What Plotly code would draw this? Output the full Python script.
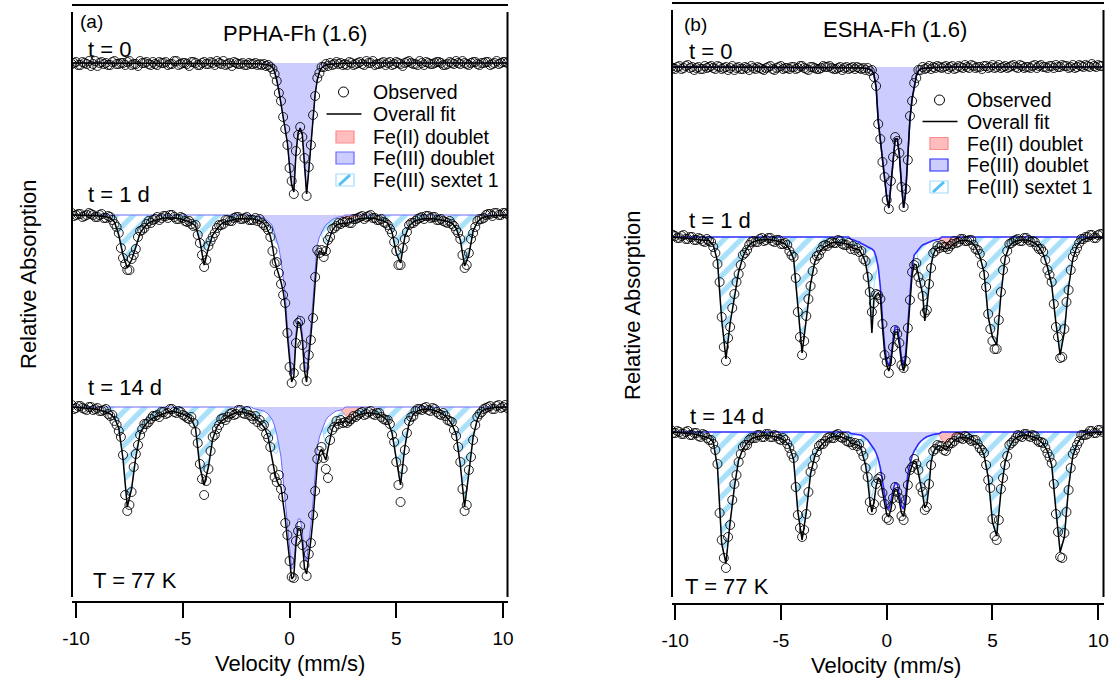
import plotly.graph_objects as go

W, H = 1114, 679
FONT = "Liberation Sans, Arial, sans-serif"

# velocity channels (mm/s): 0.2 steps in the wings, 0.1 steps across the centre
V_LEFT = [-10.2, -10.0, -9.8, -9.6, -9.4, -9.2, -9.0, -8.8, -8.6, -8.4, -8.2, -8.0, -7.8, -7.6, -7.4, -7.2,
          -7.0, -6.8, -6.6, -6.4, -6.2, -6.0, -5.8, -5.6, -5.4, -5.2, -5.0, -4.8, -4.6, -4.4, -4.2, -4.0,
          -3.8, -3.6, -3.4, -3.2, -3.0, -2.8, -2.6, -2.4, -2.2, -2.0, -1.8]
V_CENTRE = [-1.7, -1.6, -1.5, -1.4, -1.3, -1.2, -1.1, -1.0, -0.9, -0.8, -0.7, -0.6, -0.5, -0.4, -0.3,
            -0.2, -0.1, 0.0, 0.1, 0.2, 0.3, 0.4, 0.5, 0.6, 0.7, 0.8, 0.9, 1.0, 1.1, 1.2, 1.3, 1.4, 1.5,
            1.6, 1.7, 1.8, 1.9, 2.0, 2.1, 2.2, 2.3, 2.4, 2.5]
V_RIGHT = [2.6, 2.8, 3.0, 3.2, 3.4, 3.6, 3.8, 4.0, 4.2, 4.4, 4.6, 4.8, 5.0, 5.2, 5.4, 5.6, 5.8, 6.0, 6.2,
           6.4, 6.6, 6.8, 7.0, 7.2, 7.4, 7.6, 7.8, 8.0, 8.2, 8.4, 8.6, 8.8, 9.0, 9.2, 9.4, 9.6, 9.8, 10.0, 10.2]
VELOCITY = V_LEFT + V_CENTRE + V_RIGHT
# extra observed channels between the 0.2 mm/s wing channels
V_MID = [-10.1, -9.9, -9.7, -9.5, -9.3, -9.1, -8.9, -8.7, -8.5, -8.3, -8.1, -7.9, -7.7, -7.5, -7.3, -7.1,
         -6.9, -6.7, -6.5, -6.3, -6.1, -5.9, -5.7, -5.5, -5.3, -5.1, -4.9, -4.7, -4.5, -4.3, -4.1, -3.9,
         -3.7, -3.5, -3.3, -3.1, -2.9, -2.7, -2.5, -2.3, -2.1, -1.9,
         2.7, 2.9, 3.1, 3.3, 3.5, 3.7, 3.9, 4.1, 4.3, 4.5, 4.7, 4.9, 5.1, 5.3, 5.5, 5.7, 5.9, 6.1, 6.3,
         6.5, 6.7, 6.9, 7.1, 7.3, 7.5, 7.7, 7.9, 8.1, 8.3, 8.5, 8.7, 8.9, 9.1, 9.3, 9.5, 9.7, 9.9, 10.1]

# relative absorption (a.u.); doublets are given on V_CENTRE only

# ---- (a) PPHA-Fh (1.6) ----
PPHA_T0_OBS = (
    [1, -1, 2, 0, -2, 1, 3, -1, 0, 2, -2, 1, 0, -1, 2, 1, -2, 0, 1, -1, 2, 0, -1, 1, -2, 2, 0, 1, -1, 0, 2, -1, 1, 0, -2, 1, 2, 0, -1, 1, 0, 2, 1]
    + [1, 0, 2, 1, 2, 1, 3, 2, 4, 6, 11, 18, 30, 38, 54, 66, 82, 105, 118, 131, 88, 72, 64, 74, 95, 133, 104, 82, 52, 33, 15, 10, 4, 4, 1, 3, 0, 2, 1, -1, 1, 0, 2]
    + [1, -1, 2, 0, 1, -2, 0, 2, 1, -1, 0, 2, -1, 1, 0, -2, 1, 2, 0, -1, 1, 0, -1, 2, 1, 0, -2, 1, 0, 2, -1, 1, 0, -1, 2, 0, 1, -1, 0]
)
PPHA_T0_OBS_MID = (
    [0, 2, -1, 1, 3, -2, 0, 1, 2, -1, 1, 0, 2, -2, 1, 3, 0, -1, 2, 1, -1, 0, 2, 1, -2, 1, 0, 3, -1, 2, 0, 1, -1, 2, 0, -2, 1, 3, 0, 1, 2, 0]
    + [2, 0, 1, -1, 2, 0, -2, 1, 0, 2, -1, 1, 0, 3, -1, 0, 1, -2, 2, 0, 1, -1, 0, 2, -1, 1, 0, -2, 1, 0, -1, 2, 0, -1, 1, -2, 0, -1]
)
PPHA_T0_DOUBLET = [0.5, 0.6, 0.7, 0.8, 1.0, 1.2, 1.5, 2.0, 2.8, 4, 9, 17, 28, 40, 52, 64, 80, 103, 122, 129, 91, 70,
                   65, 72, 98, 131, 108, 80, 55, 31, 17, 9, 5, 3, 2, 1.5, 1.2, 1.0, 0.8, 0.7, 0.6, 0.5, 0.4]

PPHA_T1_OBS = (
    [-2, 0, -1, 1, -2, 0, 2, -1, 3, 2, 9, 18, 43, 55, 44, 34, 16, 13, 6, 5, 2, 3, 1, 0, 2, 4, 3, 7, 9, 10, 28, 52, 31, 22, 13, 10, 5, 6, 3, 2, 4, 2, 5]
    + [5, 3, 6, 4, 8, 10, 12, 15, 22, 36, 48, 47, 58, 69, 80, 88, 118, 152, 168, 158, 128, 108, 106, 130, 152, 166, 140, 125, 103, 62, 35, 38, 35, 42, 36, 25, 22, 14, 13, 11, 8, 9, 7]
    + [7, 8, 4, 3, 1, 2, 0, 3, 5, 7, 10, 18, 36, 50, 24, 10, 8, 4, 2, 1, 3, 2, 5, 6, 8, 9, 15, 24, 53, 38, 18, 6, 4, 0, -1, -2, 0, -2, -1]
)
PPHA_T1_OBS_MID = (
    [1, -1, 2, 0, -1, 2, 0, 3, 1, 5, 12, 33, 49, 55, 40, 22, 15, 9, 8, 4, 5, 1, 3, 0, 4, 2, 6, 6, 11, 20, 40, 45, 26, 18, 10, 9, 5, 6, 2, 4, 3, 5]
    + [6, 8, 4, 2, 4, 1, 3, 5, 4, 8, 14, 27, 50, 33, 17, 8, 6, 3, 4, 1, 2, 5, 4, 7, 6, 11, 18, 40, 50, 24, 12, 4, 3, -1, 1, -2, 0, -2]
)
PPHA_T1_DOUBLET = [1, 1.2, 1.5, 2, 2.5, 3, 4.5, 6, 8, 11, 19, 25, 33, 45, 60, 80, 112, 140, 160, 155, 118, 100,
                   102, 118, 148, 158, 135, 110, 85, 55, 30, 22, 17, 13, 10, 8, 6, 4.5, 3.5, 2.5, 2, 1.7, 1.5]
PPHA_T1_SEXTET = (
    [0, 0, 0.2, 0.3, 0.4, 0.6, 0.8, 1.2, 1.8, 3, 7, 20, 40, 53, 45, 32, 18, 12, 8, 6, 4.5, 3.5, 3, 2.8, 3, 3.5, 4.5, 6, 8, 11, 26, 50, 33, 20, 14, 9, 7, 5.5, 4.5, 3.5, 3.5, 3.5, 3.5]
    + [3, 3.2, 3.5, 4, 4.5, 5.5, 7, 11, 13, 20, 26, 28, 26, 22, 16, 12, 9, 8, 7, 6.5, 6.5, 6.5, 7, 7.5, 8, 9, 10, 11, 12, 13, 12, 14, 20, 27, 28, 20, 15, 11, 9, 7, 6, 5, 4.5]
    + [4.2, 3.8, 3.5, 3.2, 3, 3, 3, 3.5, 4.5, 6, 8, 17, 38, 48, 22, 11, 7, 5, 4, 3.5, 3.5, 4, 4.5, 5.5, 6.5, 8, 13, 25, 51, 40, 16, 7, 3, 1.5, 0.8, 0.5, 0.3, 0.1, 0]
)
PPHA_T1_FE2_V = [2.1, 2.2, 2.3, 2.4, 2.5, 2.6, 2.8, 3.0, 3.2, 3.4, 3.6]
PPHA_T1_FE2 = [0, 0.5, 1, 2, 3, 4, 4, 2.5, 1, 0.4, 0]

PPHA_T14_OBS = (
    [-2, 1, -1, 2, 0, 3, 1, 4, 2, 9, 14, 24, 48, 104, 85, 47, 28, 17, 15, 9, 8, 5, 7, 2, 5, 4, 8, 11, 10, 25, 57, 88, 62, 30, 22, 12, 13, 7, 8, 3, 6, 4, 9]
    + [12, 9, 15, 13, 19, 18, 27, 31, 40, 62, 70, 75, 68, 82, 90, 116, 128, 154, 170, 171, 134, 124, 119, 138, 158, 169, 147, 136, 108, 84, 52, 44, 40, 51, 62, 71, 33, 23, 20, 14, 17, 13, 16]
    + [15, 14, 9, 8, 5, 7, 4, 8, 6, 12, 13, 28, 55, 95, 43, 14, 9, 2, 3, 0, 4, 2, 7, 6, 13, 15, 29, 55, 104, 63, 33, 10, 5, 1, -1, 2, -2, 0, 1]
)
PPHA_T14_OBS_MID = (
    [2, -1, 1, 3, 0, 2, 4, 3, 7, 8, 18, 30, 88, 98, 60, 38, 22, 17, 12, 9, 10, 5, 6, 2, 6, 5, 9, 12, 16, 36, 72, 74, 44, 28, 18, 11, 10, 6, 7, 3, 7, 8]
    + [16, 12, 10, 6, 8, 5, 7, 6, 10, 13, 17, 35, 78, 62, 26, 10, 4, 2, 1, 3, 1, 5, 8, 9, 14, 23, 40, 82, 98, 50, 18, 7, 2, 0, 2, -1, 1, -2]
)
PPHA_T14_DOUBLET = [1.5, 2, 2.5, 3, 3.5, 4, 5.5, 7, 10, 13, 19, 27, 38, 50, 72, 95, 120, 140, 162, 160, 128, 112,
                    112, 125, 150, 155, 138, 118, 95, 62, 40, 30, 24, 18, 13, 10, 8, 6, 5, 4, 3.5, 3, 2.5]
PPHA_T14_SEXTET = (
    [0, 0.3, 0.5, 0.8, 1.2, 1.8, 2.5, 3.5, 5, 7, 11, 21, 52, 100, 82, 50, 26, 19, 14, 11, 9, 7.5, 6, 4.5, 4.5, 5.5, 7, 9, 12, 22, 60, 78, 60, 32, 20, 14, 11, 8.5, 6.5, 5, 5, 6, 7.5]
    + [8.5, 9.5, 10.5, 12, 14, 16, 19, 23, 32, 42, 46, 46, 40, 30, 22, 17, 13, 11, 10, 9.5, 9.5, 9.5, 10, 10.5, 11, 12, 13, 15, 17, 18, 18, 16, 18, 30, 40, 32, 22, 16, 13, 11, 10, 9, 8]
    + [6, 5, 5.5, 6, 6, 6, 6, 6.5, 7.5, 10, 14, 26, 52, 78, 40, 16, 7, 4, 2.5, 2, 2.5, 3.5, 5, 7.5, 11, 17, 27, 58, 100, 66, 30, 12, 4, 2, 1, 0.6, 0.3, 0.1, 0]
)
PPHA_T14_FE2_V = [2.1, 2.2, 2.3, 2.4, 2.5, 2.6, 2.8, 3.0, 3.2, 3.4, 3.6]
PPHA_T14_FE2 = [0, 1, 2, 3, 5, 8, 11, 5, 2, 0.8, 0]

# ---- (b) ESHA-Fh (1.6) ----
ESHA_T0_OBS = (
    [0, 2, -1, 1, -2, 0, 1, 2, -1, 0, 1, -1, 2, 0, 1, 3, 0, 2, 1, -1, 2, 1, 3, 0, 2, 1, -1, 1, 2, 0, 1, -1, 2, 0, 1, 2, -1, 0, 1, 2, 0, 1, 2]
    + [1, 0, 2, 0, 1, 2, 1, 3, 1, 4, 3, 10, 19, 57, 72, 95, 110, 133, 142, 114, 90, 70, 74, 86, 120, 140, 122, 93, 49, 34, 16, 11, 3, 3, 0, 2, 1, -1, 2, 0, 1, -1, 0]
    + [1, -1, 0, 2, -1, 1, 0, -2, 1, 0, -1, 1, -2, 0, 1, -1, 0, -2, 1, -1, 0, 1, -2, -1, 0, 1, -1, -2, 0, -1, 1, -2, 0, -1, -2, 0, -1, -2, -1]
)
ESHA_T0_OBS_MID = (
    [1, 0, 2, -1, 1, 3, 0, 2, 1, -1, 2, 0, 1, 3, -1, 1, 2, 0, 3, 1, 0, 2, 1, -1, 3, 0, 2, 1, 0, 2, -1, 1, 3, 0, 2, 1, 0, -1, 2, 1, 3, 0]
    + [0, 2, -1, 1, 0, -2, 1, -1, 0, 2, -1, 0, 1, -2, 0, 1, -1, 0, -2, 1, 0, -1, 1, -2, 0, -1, 1, 0, -2, -1, 0, 1, -2, 0, -1, -3, 0, -1]
)
ESHA_T0_DOUBLET = [0.3, 0.4, 0.5, 0.6, 0.7, 0.9, 1.1, 1.4, 1.8, 2.5, 3.5, 8, 20, 54, 74, 92, 113, 130, 141, 118, 88, 72,
                   72, 88, 118, 141, 125, 90, 52, 32, 18, 9, 4, 2, 1.5, 1.2, 1, 0.8, 0.7, 0.6, 0.5, 0.4, 0.3]

ESHA_T1_OBS = (
    [-3, -1, 1, -2, 2, 0, 3, 2, 5, 4, 10, 27, 80, 124, 90, 57, 37, 18, 13, 5, 5, 2, 4, 1, 4, 3, 7, 6, 14, 20, 75, 118, 79, 49, 23, 18, 9, 9, 5, 6, 4, 8, 6]
    + [12, 9, 13, 11, 15, 14, 22, 24, 40, 55, 75, 66, 57, 58, 62, 87, 118, 125, 136, 124, 110, 93, 97, 106, 128, 131, 124, 91, 63, 35, 28, 26, 40, 46, 59, 76, 73, 47, 31, 16, 14, 9, 11]
    + [8, 10, 9, 4, 5, 2, 4, 3, 12, 17, 38, 77, 104, 112, 55, 23, 7, 4, 2, 4, 1, 5, 5, 12, 15, 33, 45, 90, 121, 92, 53, 20, 11, 2, 0, -2, 1, -2, -3]
)
ESHA_T1_OBS_MID = (
    [-2, 1, -1, 2, 0, 3, 1, 4, 2, 5, 16, 45, 110, 101, 71, 45, 28, 16, 8, 4, 5, 1, 3, 1, 5, 3, 7, 8, 18, 41, 100, 104, 62, 34, 19, 13, 8, 6, 6, 3, 7, 8]
    + [10, 12, 7, 6, 2, 4, 3, 8, 13, 27, 50, 92, 112, 83, 33, 14, 6, 3, 4, 1, 3, 4, 9, 12, 23, 38, 67, 100, 120, 65, 33, 15, 6, 2, 0, -2, 1, -3]
)
ESHA_T1_DOUBLET = [2, 2.5, 3.5, 4.5, 5, 6.5, 7.5, 8.5, 10, 11, 12, 14, 20, 30, 50, 83, 109, 123, 129, 121, 102, 90,
                   90, 103, 121, 129, 116.5, 88, 53, 30, 18, 15, 12, 10, 8, 7, 6, 5, 4, 3.5, 3, 2.5, 2]
ESHA_T1_SEXTET = (
    [0, 0.3, 0.5, 0.8, 1.2, 1.7, 2.3, 3, 3.5, 3.5, 8, 24, 83, 122, 86, 60, 35, 20, 11, 6, 4, 3, 2.5, 2.5, 3, 4, 5, 7, 12, 22, 72, 116, 82, 47, 25, 16, 10.5, 8, 6, 5, 5.5, 6.5, 7.5]
    + [8, 8.5, 8.5, 8, 8, 9.5, 12.5, 17.5, 28, 47, 84, 48, 38, 26, 10, 7, 6, 5, 5, 5, 5, 5, 5, 5, 5, 5, 5.5, 6, 7, 8, 9, 13, 26, 38, 49, 77, 64, 45, 24, 14.5, 10, 7.5, 6]
    + [4.5, 3, 2.5, 2.5, 2.5, 3, 3.5, 5, 10, 19, 35, 80, 100, 108, 58, 21, 9, 5, 3.5, 3, 3, 4, 6, 10, 17, 30, 48, 86, 118, 95, 50, 22, 9, 3.5, 1.5, 0.8, 0.4, 0.2, 0]
)
ESHA_T1_FE2_V = [2.3, 2.4, 2.5, 2.6, 2.8, 3.0, 3.2, 3.4, 3.6, 3.8]
ESHA_T1_FE2 = [0, 1, 2, 5, 9, 8, 4, 1.5, 0.5, 0]

ESHA_T14_OBS = (
    [-2, 1, 0, 2, -1, 3, 1, 5, 3, 8, 12, 32, 108, 136, 93, 52, 30, 15, 13, 6, 6, 3, 5, 2, 5, 4, 8, 8, 16, 26, 83, 105, 82, 40, 26, 14, 12, 6, 6, 3, 5, 5, 10]
    + [10, 13, 11, 14, 12, 19, 24, 36, 45, 70, 78, 72, 52, 47, 45, 61, 72, 86, 88, 75, 66, 55, 60, 66, 84, 88, 68, 53, 38, 35, 27, 32, 38, 55, 60, 78, 75, 52, 33, 19, 17, 13, 14]
    + [14, 19, 11, 9, 5, 7, 5, 9, 8, 16, 21, 48, 87, 108, 57, 33, 13, 9, 3, 5, 2, 5, 4, 10, 11, 21, 31, 82, 125, 101, 58, 22, 13, 3, 3, -1, 1, -2, 0]
)
ESHA_T14_OBS_MID = (
    [1, -1, 2, 0, 3, 1, 4, 2, 6, 8, 18, 81, 126, 105, 68, 43, 22, 13, 8, 6, 3, 5, 2, 5, 3, 7, 6, 12, 22, 55, 96, 98, 60, 34, 20, 12, 9, 5, 6, 2, 6, 9]
    + [18, 14, 11, 5, 6, 4, 7, 8, 12, 18, 33, 56, 104, 88, 46, 24, 11, 6, 4, 2, 4, 3, 8, 10, 16, 25, 52, 100, 126, 80, 36, 18, 9, 3, 2, -1, 1, -2]
)
ESHA_T14_DOUBLET = [1.5, 1.8, 2.1, 2.4, 2.8, 3.3, 4.5, 6, 8, 11, 13.5, 17, 21, 27, 36, 50, 66, 75, 77, 70, 58, 51,
                    52, 62, 74, 77, 63, 42, 31, 24, 19, 15, 12, 9.5, 7.5, 6, 4.8, 3.8, 3, 2.5, 2.1, 1.8, 1.5]
ESHA_T14_SEXTET = (
    [0, 0.3, 0.5, 0.8, 1.2, 1.8, 2.5, 3.5, 4.5, 6, 10, 35, 112, 131, 90, 55, 28, 17, 11, 7, 5, 4, 3.5, 3.5, 4, 5, 6.5, 9, 14, 28, 80, 108, 80, 42, 24, 16, 11, 7, 5, 4, 4.5, 6, 8]
    + [9.5, 9.7, 9.9, 10.1, 10.7, 14.7, 20.5, 27, 40, 57, 66.5, 53, 33, 19, 12, 9, 8, 7.5, 7.5, 7, 6.5, 6, 6, 6.5, 7, 7.5, 8, 8.5, 9, 9.5, 10, 15, 28, 42.5, 55.5, 70, 67, 51, 27, 18.5, 14, 11, 8.5]
    + [7, 6, 5, 4.5, 4.5, 5, 6, 7.5, 10, 14, 23, 45, 90, 104, 60, 30, 15, 8, 5, 3.5, 3, 4, 5.5, 8, 12, 19, 33, 78, 120, 105, 55, 24, 12, 5, 2, 1, 0.5, 0.2, 0]
)
ESHA_T14_FE2_V = [2.2, 2.3, 2.4, 2.5, 2.6, 2.8, 3.0, 3.2, 3.4, 3.6, 3.8]
ESHA_T14_FE2 = [0, 0.5, 1.5, 3.5, 8, 12, 8, 3.5, 1.5, 0.5, 0]

# colours
C_OBS = "rgba(0,0,0,0.85)"
C_FE2_FILL, C_FE2_LINE = "#ffbdbd", "#ff8a8a"
C_DBL_FILL = "#ccccff"
C_SXT_HATCH, C_SXT_LINE = "#52c0f4", "#9fdcfb"


def px(x):
    return x / W


def py(y):
    return 1 - y / H


def pad_centre(values):
    return [0.0] * len(V_LEFT) + list(values) + [0.0] * len(V_RIGHT)


def on_grid(vs, ds):
    lookup = {round(v, 1): d for v, d in zip(vs, ds)}
    return [lookup.get(round(v, 1), 0.0) for v in VELOCITY]


checks = [("PPHA_T0_OBS", PPHA_T0_OBS, VELOCITY), ("PPHA_T1_OBS", PPHA_T1_OBS, VELOCITY),
          ("PPHA_T14_OBS", PPHA_T14_OBS, VELOCITY), ("PPHA_T1_SEXTET", PPHA_T1_SEXTET, VELOCITY),
          ("PPHA_T14_SEXTET", PPHA_T14_SEXTET, VELOCITY), ("ESHA_T0_OBS", ESHA_T0_OBS, VELOCITY),
          ("ESHA_T1_OBS", ESHA_T1_OBS, VELOCITY), ("ESHA_T14_OBS", ESHA_T14_OBS, VELOCITY),
          ("ESHA_T1_SEXTET", ESHA_T1_SEXTET, VELOCITY), ("ESHA_T14_SEXTET", ESHA_T14_SEXTET, VELOCITY),
          ("PPHA_T0_OBS_MID", PPHA_T0_OBS_MID, V_MID), ("PPHA_T1_OBS_MID", PPHA_T1_OBS_MID, V_MID),
          ("PPHA_T14_OBS_MID", PPHA_T14_OBS_MID, V_MID), ("ESHA_T0_OBS_MID", ESHA_T0_OBS_MID, V_MID),
          ("ESHA_T1_OBS_MID", ESHA_T1_OBS_MID, V_MID), ("ESHA_T14_OBS_MID", ESHA_T14_OBS_MID, V_MID)]
for name, arr, grid in checks:
    if len(arr) != len(grid):
        raise ValueError(f"{name} has {len(arr)} values, expected {len(grid)}")

# spectra: (baseline offset, observed, observed between channels, doublet, sextet, fe2 velocities, fe2)
PANELS = [
    dict(x="x", y="y", edge="#6a6aff", edge_w=1.0, spectra=[
        (63, PPHA_T0_OBS, PPHA_T0_OBS_MID, PPHA_T0_DOUBLET, None, None, None),
        (215, PPHA_T1_OBS, PPHA_T1_OBS_MID, PPHA_T1_DOUBLET, PPHA_T1_SEXTET, PPHA_T1_FE2_V, PPHA_T1_FE2),
        (407, PPHA_T14_OBS, PPHA_T14_OBS_MID, PPHA_T14_DOUBLET, PPHA_T14_SEXTET, PPHA_T14_FE2_V, PPHA_T14_FE2),
    ]),
    dict(x="x2", y="y2", edge="#2b2bff", edge_w=1.6, spectra=[
        (67, ESHA_T0_OBS, ESHA_T0_OBS_MID, ESHA_T0_DOUBLET, None, None, None),
        (237, ESHA_T1_OBS, ESHA_T1_OBS_MID, ESHA_T1_DOUBLET, ESHA_T1_SEXTET, ESHA_T1_FE2_V, ESHA_T1_FE2),
        (432, ESHA_T14_OBS, ESHA_T14_OBS_MID, ESHA_T14_DOUBLET, ESHA_T14_SEXTET, ESHA_T14_FE2_V, ESHA_T14_FE2),
    ]),
]

fig = go.Figure()

for panel in PANELS:
    xa, ya = panel["x"], panel["y"]
    for base, obs, obs_mid, doublet, sextet, fe2_v, fe2 in panel["spectra"]:
        dbl = pad_centre(doublet)
        fit = list(dbl)
        if sextet is not None:
            fig.add_trace(go.Scatter(
                x=VELOCITY, y=[base + d for d in sextet], xaxis=xa, yaxis=ya, mode="lines",
                fill="toself", fillcolor="rgba(255,255,255,0)",
                fillpattern=dict(shape="/", fgcolor=C_SXT_HATCH, bgcolor="rgba(255,255,255,0)",
                                 size=12, solidity=0.45),
                line=dict(color=C_SXT_LINE, width=1), hoverinfo="skip"))
            fit = [a + b for a, b in zip(fit, sextet)]
        if fe2 is not None:
            fig.add_trace(go.Scatter(
                x=fe2_v, y=[base + d for d in fe2], xaxis=xa, yaxis=ya, mode="lines",
                fill="toself", fillcolor=C_FE2_FILL, line=dict(color=C_FE2_LINE, width=1),
                hoverinfo="skip"))
            fit = [a + b for a, b in zip(fit, on_grid(fe2_v, fe2))]
        fig.add_trace(go.Scatter(
            x=VELOCITY, y=[base + d for d in dbl], xaxis=xa, yaxis=ya, mode="lines",
            fill="toself", fillcolor=C_DBL_FILL,
            line=dict(color=panel["edge"], width=panel["edge_w"]), hoverinfo="skip"))
        fig.add_trace(go.Scatter(
            x=VELOCITY + V_MID, y=[base + d for d in obs + obs_mid], xaxis=xa, yaxis=ya, mode="markers",
            marker=dict(symbol="circle-open", size=9, color=C_OBS, line=dict(width=1)),
            hoverinfo="skip"))
        fig.add_trace(go.Scatter(
            x=VELOCITY, y=[base + d for d in fit], xaxis=xa, yaxis=ya, mode="lines",
            line=dict(color="black", width=1.5), hoverinfo="skip"))

xaxis_style = dict(
    showgrid=False, zeroline=False, showline=True, linecolor="black", linewidth=2, automargin=False,
    ticks="outside", ticklen=15, tickwidth=2, tickcolor="black",
    tickvals=[-10, -5, 0, 5, 10], ticktext=["-10", "-5", "0", "5", "10"],
    tickfont=dict(family=FONT, size=19, color="black"), ticklabelstandoff=4,
)

fig.update_layout(
    width=W, height=H, margin=dict(l=0, r=0, t=0, b=0, pad=0, autoexpand=False),
    paper_bgcolor="white", plot_bgcolor="white", showlegend=False,
    xaxis=dict(domain=[px(72), px(507.5)], range=[-10.19, 10.21], anchor="y", **xaxis_style),
    yaxis=dict(domain=[py(601), py(5)], range=[601, 5], visible=False, anchor="x", automargin=False),
    xaxis2=dict(domain=[px(672), px(1103.5)], range=[-10.15, 10.25], anchor="y2", **xaxis_style),
    yaxis2=dict(domain=[py(603), py(3)], range=[603, 3], visible=False, anchor="x2", automargin=False),
)

shapes = []


def seg(x0, y0, x1, y1, color="black", width=2):
    shapes.append(dict(type="line", xref="paper", yref="paper", x0=px(x0), y0=py(y0), x1=px(x1), y1=py(y1),
                       line=dict(color=color, width=width), layer="above"))


def box(x0, y0, x1, y1, fill, line, width=1.2):
    shapes.append(dict(type="rect", xref="paper", yref="paper", x0=px(x0), y0=py(y0), x1=px(x1), y1=py(y1),
                       fillcolor=fill, line=dict(color=line, width=width), layer="above"))


# frames
seg(72, 5, 508, 5)
seg(72, 12, 72, 597)
seg(507.5, 12, 507.5, 597)
seg(672, 3, 1104, 3)
seg(672, 10, 672, 597)
seg(1103.5, 10, 1103.5, 597)

annotations = []


def text(x, y, s, size=22, anchor="left", angle=0):
    annotations.append(dict(xref="paper", yref="paper", x=px(x), y=py(y), text=s, showarrow=False,
                            xanchor=anchor, yanchor="middle", textangle=angle,
                            font=dict(family=FONT, size=size, color="black")))


LEGEND_LABELS = ["Observed", "Overall fit", "Fe(II) doublet", "Fe(III) doublet", "Fe(III) sextet 1"]


def legend(cx, xt, rows, bx0, edge):
    r0, r1, r2, r3, r4 = rows
    shapes.append(dict(type="circle", xref="paper", yref="paper", x0=px(cx - 5), x1=px(cx + 5),
                       y0=py(r0 - 5), y1=py(r0 + 5), line=dict(color="black", width=1), layer="above"))
    seg(cx - 17, r1, cx + 18, r1, width=1.5)
    box(bx0, r2 - 6, bx0 + 18, r2 + 6, C_FE2_FILL, C_FE2_LINE)
    box(bx0, r3 - 6, bx0 + 18, r3 + 6, C_DBL_FILL, edge)
    box(bx0, r4 - 6, bx0 + 18, r4 + 6, "white", C_SXT_LINE)
    seg(bx0 + 3, r4 + 5, bx0 + 14, r4 - 5, color=C_SXT_HATCH, width=3)
    for label, r in zip(LEGEND_LABELS, rows):
        text(xt, r, label, size=19.5)


legend(343.5, 371, [92, 114, 137, 158, 180], 336, "#6a6aff")
legend(939.5, 965, [100, 121.5, 143.5, 165, 187], 930, "#2b2bff")

# panel (a)
text(78, 22, "(a)", size=19)
text(295, 33, "PPHA-Fh (1.6)", anchor="center")
text(86, 50, "t = 0")
text(86, 195, "t = 1 d")
text(86, 387, "t = 14 d")
text(91, 580, "T = 77 K")
text(28, 274, "Relative Absorption", anchor="center", angle=-90)
text(290, 663, "Velocity (mm/s)", anchor="center")

# panel (b)
text(682, 25, "(b)", size=19)
text(895, 30, "ESHA-Fh (1.6)", anchor="center")
text(687, 52, "t = 0")
text(687, 221, "t = 1 d")
text(688, 416, "t = 14 d")
text(683, 586, "T = 77 K")
text(632, 305, "Relative Absorption", anchor="center", angle=-90)
text(886, 665, "Velocity (mm/s)", anchor="center")

fig.update_layout(shapes=shapes, annotations=annotations)

# the page's default body margin would push the fixed-size figure off the 1114x679 window
fig.write_html("out.html", config={"displayModeBar": False},
               post_script="document.body.style.margin='0';document.body.style.overflow='hidden';")
